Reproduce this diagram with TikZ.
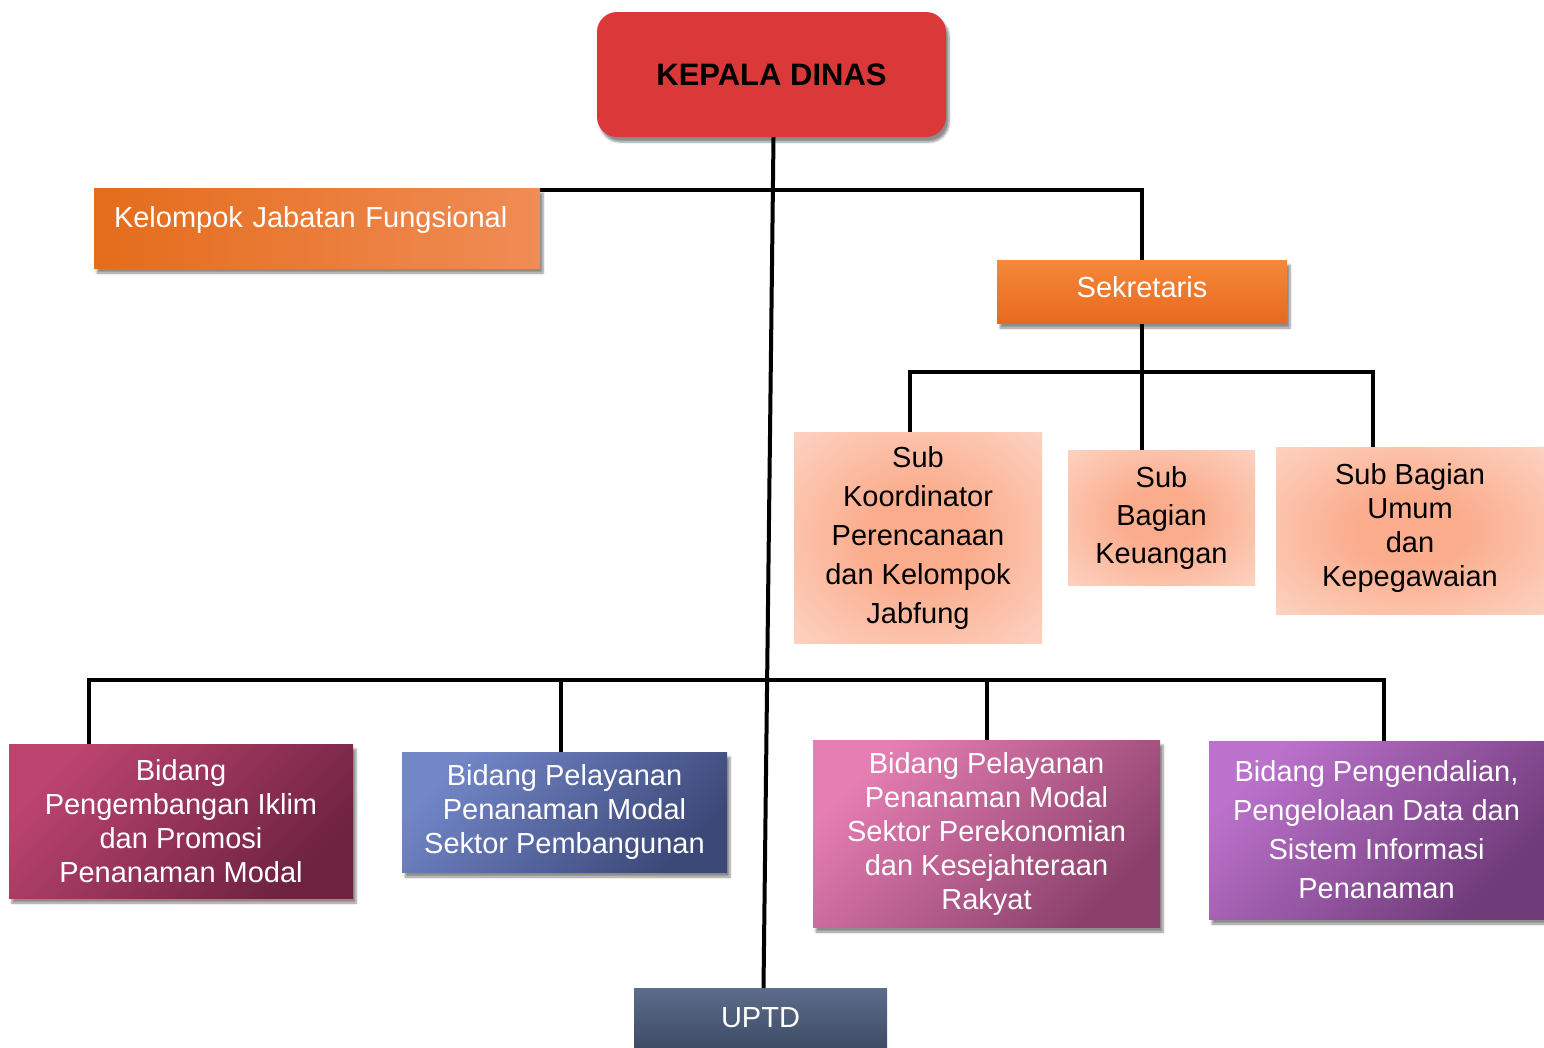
\documentclass[tikz,border=0pt]{standalone}
\usepackage{fontspec}
\setmainfont{Liberation Sans}
\usetikzlibrary{shadows.blur,backgrounds}
\definecolor{kdred}{RGB}{219,57,57}
\definecolor{orgA}{RGB}{228,108,27}
\definecolor{orgB}{RGB}{244,126,42}
\definecolor{orgC}{RGB}{240,140,86}
\definecolor{sekA}{RGB}{246,136,58}
\definecolor{sekB}{RGB}{230,106,32}
\definecolor{pchIn}{RGB}{251,172,140}
\definecolor{pchOut}{RGB}{253,226,215}
\definecolor{bdaA}{RGB}{188,68,110}
\definecolor{bdaB}{RGB}{110,34,64}
\definecolor{bdbA}{RGB}{114,134,200}
\definecolor{bdbB}{RGB}{60,72,120}
\definecolor{bdcA}{RGB}{230,126,180}
\definecolor{bdcB}{RGB}{138,64,106}
\definecolor{bddA}{RGB}{188,114,204}
\definecolor{bddB}{RGB}{110,58,120}
\definecolor{upA}{RGB}{92,108,138}
\definecolor{upB}{RGB}{62,76,102}
\pgfdeclareradialshading{peachglow}{\pgfpoint{0bp}{0bp}}{color(0bp)=(pchIn); color(10bp)=(pchIn); color(46bp)=(pchOut); color(50bp)=(pchOut)}
\begin{document}
\begin{tikzpicture}[x=1pt,y=-1pt,
  box/.style={inner sep=0pt, align=center, font=\fontsize{29}{34}\selectfont},
  shad/.style={blur shadow={shadow xshift=3pt, shadow yshift=-5pt, shadow blur steps=6, shadow opacity=45}},
  peach/.style={box, shading=peachglow},
  bidang/.style 2 args={box, shad, text=white, top color=#1, bottom color=#2, shading angle=45},
  link/.style={line width=4pt}]
\useasboundingbox (0,0) rectangle (1544,1047);
\node[box, shad, fill=kdred, rounded corners=20pt, minimum width=349pt, minimum height=125pt, font=\fontsize{31}{36}\selectfont\bfseries] (kd) at (771.5,74.5) {KEPALA DINAS};
\node[box, shad, left color=orgA, middle color=orgB, right color=orgC, text=white, minimum width=446pt, minimum height=80pt, inner xsep=20pt, text width=406pt, align=left, text height=21pt, text depth=23pt] (kjf) at (317,228) {Kelompok Jabatan Fungsional};
\node[box, shad, top color=sekA, bottom color=sekB, text=white, minimum width=290pt, minimum height=63pt, text depth=9pt] (sek) at (1142,291.5) {Sekretaris};
\node[peach, minimum width=248pt, minimum height=211pt, font=\fontsize{29}{39}\selectfont] (skp) at (918,537.5) {Sub\\Koordinator\\Perencanaan\\dan Kelompok\\Jabfung};
\node[peach, minimum width=187pt, minimum height=135pt, font=\fontsize{29}{38}\selectfont] (sbk) at (1161.5,517.5) {Sub\\Bagian\\Keuangan};
\node[peach, minimum width=268pt, minimum height=167pt, text depth=11pt] (sbu) at (1410,530.5) {Sub Bagian\\Umum\\dan\\Kepegawaian};
\node[bidang={bdaA}{bdaB}, minimum width=344pt, minimum height=154pt] (bd1) at (181,821) {Bidang\\Pengembangan Iklim\\dan Promosi\\Penanaman Modal};
\node[bidang={bdbA}{bdbB}, minimum width=325pt, minimum height=120pt] (bd2) at (564.5,812) {Bidang Pelayanan\\Penanaman Modal\\Sektor Pembangunan};
\node[bidang={bdcA}{bdcB}, minimum width=347pt, minimum height=187pt] (bd3) at (986.5,833.5) {Bidang Pelayanan\\Penanaman Modal\\Sektor Perekonomian\\dan Kesejahteraan\\Rakyat};
\node[bidang={bddA}{bddB}, minimum width=335pt, minimum height=178pt, font=\fontsize{29}{39}\selectfont] (bd4) at (1376.5,830) {Bidang Pengendalian,\\Pengelolaan Data dan\\Sistem Informasi\\Penanaman};
\node[box, top color=upA, bottom color=upB, text=white, minimum width=253pt, minimum height=59pt] (uptd) at (760.5,1017.5) {UPTD};
\coordinate (bus2) at (0,372);
\coordinate (bus3) at (0,680);
\begin{pgfonlayer}{background}
\draw[link] ([xshift=2pt]kd.south) -- ([xshift=3pt]uptd.north);
\draw[link] ([yshift=-2pt]kjf.north) -| (sek.north);
\draw[link] (sek.south) -- (sek.south |- sbk.north);
\draw[link] ([xshift=-8pt]skp.north) |- ([xshift=-37pt]sbu.north |- bus2) -- ([xshift=-37pt]sbu.north);
\draw[link] ([xshift=-92pt]bd1.north) |- ([xshift=7pt]bd4.north |- bus3) -- ([xshift=7pt]bd4.north);
\draw[link] ([xshift=-4pt]bd2.north) -- ([xshift=-4pt]bd2.north |- bus3);
\draw[link] (bd3.north) -- (bd3.north |- bus3);
\end{pgfonlayer}
\end{tikzpicture}
\end{document}
